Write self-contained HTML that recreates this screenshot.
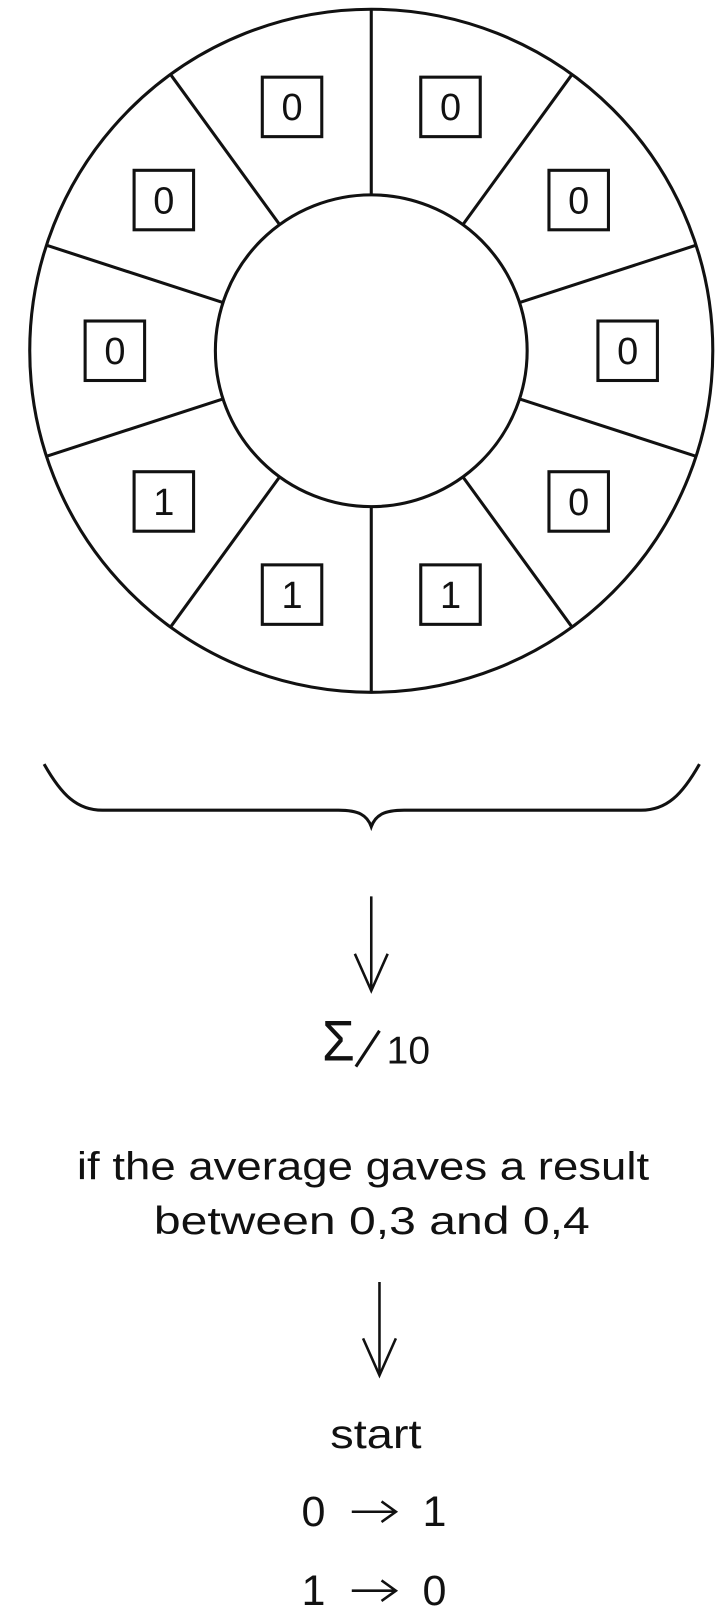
<!DOCTYPE html>
<html><head><meta charset="utf-8"><style>
html,body{margin:0;padding:0;background:#fff;}
svg{display:block;}
text{font-family:"Liberation Sans",sans-serif;fill:#111;}
</style></head><body>
<svg id="fig" width="725" height="1608" viewBox="0 0 725 1608">
<g transform="scale(1.0256)">
<g id="ring" stroke="#111" stroke-width="3" fill="none">
<circle cx="362" cy="342" r="333"/>
<circle cx="362" cy="342" r="152"/>
</g>
<g id="boxes"></g>
<path d="M43,745 C60,775 75,790 100,790 L330,790 C350,790 358,795 362,806 C366,795 374,790 394,790 L625,790 C650,790 665,775 682,745" stroke="#111" stroke-width="3" fill="none"/>
<g stroke="#111" stroke-width="2.5" fill="none">
<line x1="362" y1="874" x2="362" y2="965"/>
<polyline points="346,930 362,966 378,930"/>
</g>
<text x="314" y="1034" font-size="56" textLength="32" lengthAdjust="spacingAndGlyphs">Σ</text>
<line x1="370" y1="1005" x2="347" y2="1040" stroke="#111" stroke-width="3"/>
<text x="377" y="1037" font-size="38">10</text>
<text x="75" y="1150" font-size="38" textLength="558" lengthAdjust="spacingAndGlyphs">if the average gaves a result</text>
<text x="150" y="1203" font-size="38" textLength="425" lengthAdjust="spacingAndGlyphs">between 0,3 and 0,4</text>
<g stroke="#111" stroke-width="2.5" fill="none">
<line x1="370" y1="1250" x2="370" y2="1340"/>
<polyline points="354,1305 370,1341 386,1305"/>
</g>
<text x="322" y="1412" font-size="40" textLength="89" lengthAdjust="spacingAndGlyphs">start</text>
<g>
<text x="294" y="1488" font-size="42">0</text>
<g stroke="#111" stroke-width="2.5" fill="none"><line x1="343" y1="1474" x2="385" y2="1474"/><polyline points="372,1464 386,1474 372,1484"/></g>
<text x="412" y="1488" font-size="42">1</text>
</g>
<g>
<text x="294" y="1565" font-size="42">1</text>
<g stroke="#111" stroke-width="2.5" fill="none"><line x1="343" y1="1551" x2="385" y2="1551"/><polyline points="372,1541 386,1551 372,1561"/></g>
<text x="412" y="1565" font-size="42">0</text>
</g>
</g>
</svg>
<script>
const cellValues = [0,0,0,0,1,1,1,0,0,0];
const cx = 362, cy = 342, rIn = 152, rOut = 333, rBox = 250, half = 29;
const NS = "http://www.w3.org/2000/svg";
const ring = document.getElementById('ring');
const boxes = document.getElementById('boxes');
const n = cellValues.length;
for (let i = 0; i < n; i++) {
  const a = i * 2 * Math.PI / n;
  const l = document.createElementNS(NS, 'line');
  l.setAttribute('x1', cx + rIn * Math.sin(a));
  l.setAttribute('y1', cy - rIn * Math.cos(a));
  l.setAttribute('x2', cx + rOut * Math.sin(a));
  l.setAttribute('y2', cy - rOut * Math.cos(a));
  
  
  ring.appendChild(l);
}
cellValues.forEach((v, i) => {
  const a = (i + 0.5) * 2 * Math.PI / n;
  const bx = cx + rBox * Math.sin(a), by = cy - rBox * Math.cos(a);
  const r = document.createElementNS(NS, 'rect');
  r.setAttribute('x', bx - half); r.setAttribute('y', by - half);
  r.setAttribute('width', half * 2); r.setAttribute('height', half * 2);
  r.setAttribute('fill', 'none'); r.setAttribute('stroke', '#111'); r.setAttribute('stroke-width', '3');
  
  
  boxes.appendChild(r);
  const t = document.createElementNS(NS, 'text');
  t.setAttribute('x', bx); t.setAttribute('y', by + 13);
  t.setAttribute('text-anchor', 'middle'); t.setAttribute('font-size', '37');
  t.textContent = v;
  
  
  boxes.appendChild(t);
});
</script>
</body></html>
